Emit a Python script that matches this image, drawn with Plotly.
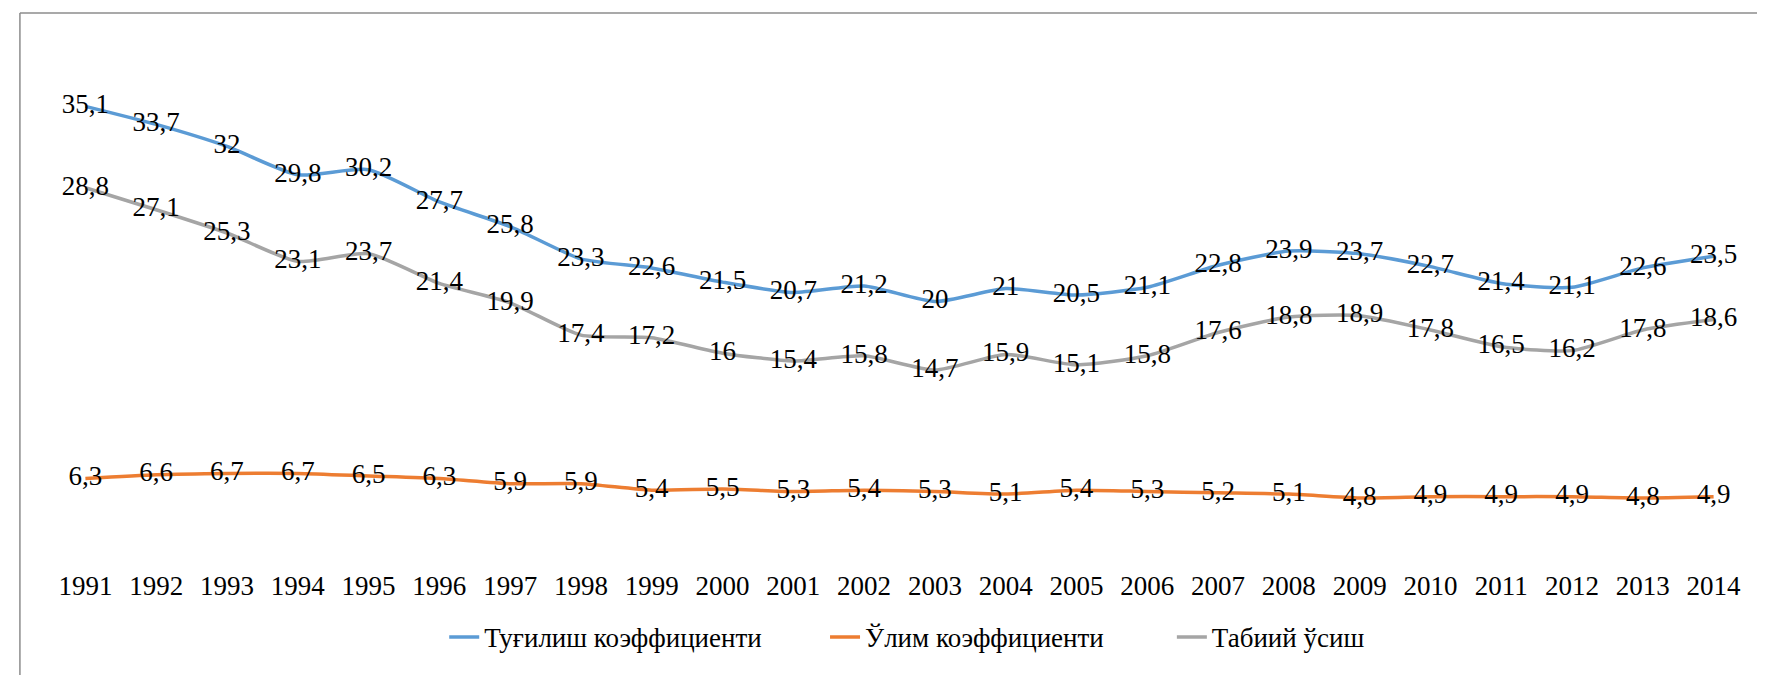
import plotly.graph_objects as go

years = [str(y) for y in range(1991, 2015)]
birth_rate = [35.1, 33.7, 32, 29.8, 30.2, 27.7, 25.8, 23.3, 22.6, 21.5, 20.7, 21.2,
              20, 21, 20.5, 21.1, 22.8, 23.9, 23.7, 22.7, 21.4, 21.1, 22.6, 23.5]
death_rate = [6.3, 6.6, 6.7, 6.7, 6.5, 6.3, 5.9, 5.9, 5.4, 5.5, 5.3, 5.4,
              5.3, 5.1, 5.4, 5.3, 5.2, 5.1, 4.8, 4.9, 4.9, 4.9, 4.8, 4.9]
natural_growth = [28.8, 27.1, 25.3, 23.1, 23.7, 21.4, 19.9, 17.4, 17.2, 16, 15.4, 15.8,
                  14.7, 15.9, 15.1, 15.8, 17.6, 18.8, 18.9, 17.8, 16.5, 16.2, 17.8, 18.6]
series_names = ["Туғилиш коэффициенти", "Ўлим коэффициенти", "Табиий ўсиш"]
series_colors = ["#5B9BD5", "#ED7D31", "#A5A5A5"]

FONT = "Liberation Serif, Times New Roman, serif"
FS = 27

L, R, T, B = 41.6, 23.6, 34.5, 122.5
W, H = 1765, 675
pw = W - L - R
ph = H - T - B


def fmt(v):
    return f"{v:g}".replace(".", ",")


legend_ids = ["legend", "legend2", "legend3"]
legend_text_x = [486, 867, 1214]   # pixel x where each legend text starts
legend_cy = 630

fig = go.Figure()
for name, vals, col, lid in zip(series_names, [birth_rate, death_rate, natural_growth],
                                series_colors, legend_ids):
    fig.add_trace(go.Scatter(
        x=years, y=vals, name=name, mode="lines+text", legend=lid,
        line=dict(color=col, width=3.5, shape="spline", smoothing=0.6),
        text=[fmt(v) for v in vals], textposition="middle center",
        textfont=dict(family=FONT, size=FS, color="#000000"),
        cliponaxis=False,
    ))

legends = {}
for lid, tx in zip(legend_ids, legend_text_x):
    legends[lid] = dict(orientation="h", x=(tx - 50 - L) / pw, xanchor="left",
                        y=(ph - (legend_cy - T)) / ph, yanchor="middle",
                        font=dict(family=FONT, size=FS, color="#000000"),
                        bgcolor="rgba(0,0,0,0)")

fig.update_layout(
    width=W, height=H,
    margin=dict(l=L, r=R, t=T, b=B, pad=0),
    paper_bgcolor="white", plot_bgcolor="white",
    font=dict(family=FONT, size=FS, color="#000000"),
    xaxis=dict(type="category", range=[-0.5, 23.5], showgrid=False, zeroline=False,
               showline=False, ticks="", tickfont=dict(family=FONT, size=FS, color="#000000"),
               ticklabelstandoff=7),
    yaxis=dict(range=[0, 40], visible=False, showgrid=False, zeroline=False),
    showlegend=True,
    shapes=[
        dict(type="line", xref="paper", yref="paper",
             x0=(11.5 - L) / pw, x1=1.2, y0=(ph - (4.5 - T)) / ph, y1=(ph - (4.5 - T)) / ph,
             line=dict(color="#8C8C8C", width=1.5)),
        dict(type="line", xref="paper", yref="paper",
             x0=(11.5 - L) / pw, x1=(11.5 - L) / pw, y0=(ph - (4.5 - T)) / ph, y1=-0.5,
             line=dict(color="#8C8C8C", width=1.5)),
    ],
    **legends,
)

fig.write_html("out.html")
